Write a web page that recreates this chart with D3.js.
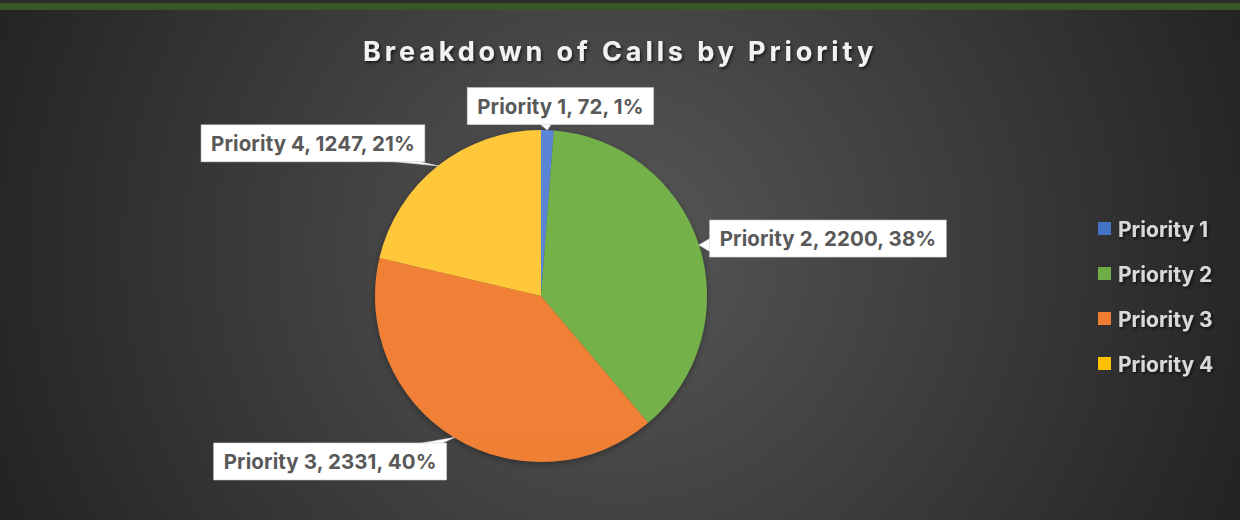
<!DOCTYPE html>
<html>
<head>
<meta charset="utf-8">
<script src="https://cdn.jsdelivr.net/npm/d3@7"></script>
<style>
  html, body { margin: 0; padding: 0; background: #262626; }
  svg { display: block; }
</style>
</head>
<body>
<svg id="chart" width="1240" height="520"></svg>
<script>
// ---- data ----
const categories = ["Priority 1", "Priority 2", "Priority 3", "Priority 4"];
const values = [72, 2200, 2331, 1247];
const percentLabels = ["1%", "38%", "40%", "21%"];
const title = "Breakdown of Calls by Priority";

// ---- styles / layout ----
const colors = ["#4472C4", "#70AD47", "#ED7D31", "#FFC000"];
const colorsLight = ["#5a85d6", "#74b14a", "#ef8034", "#ffc83a"];
const colorsDark = ["#3d67b5", "#6aa542", "#ea7b2f", "#e8b200"];
// label box center offset from the slice's outer mid point
const labelOffsets = [[13, -24], [129, -6.5], [-124, 24], [-125, -22.5]];

const W = 1240, H = 520;
const cx = 541, cy = 296, R = 166;
const FONT = "Inter, 'Open Sans', 'DejaVu Sans', sans-serif";

const svg = d3.select("#chart");
const defs = svg.append("defs");

const bg = defs.append("radialGradient").attr("id", "bg")
  .attr("gradientUnits", "userSpaceOnUse")
  .attr("cx", 620).attr("cy", 250).attr("r", 660);
bg.append("stop").attr("offset", 0).attr("stop-color", "#575757");
bg.append("stop").attr("offset", 1).attr("stop-color", "#242424");

colors.forEach((c, i) => {
  const g = defs.append("linearGradient").attr("id", "sl" + i)
    .attr("gradientUnits", "userSpaceOnUse")
    .attr("x1", 0).attr("y1", cy - R).attr("x2", 0).attr("y2", cy + R);
  g.append("stop").attr("offset", 0).attr("stop-color", colorsLight[i]);
  g.append("stop").attr("offset", 1).attr("stop-color", colorsDark[i]);
});

const sh = defs.append("filter").attr("id", "tshadow")
  .attr("x", "-10%").attr("y", "-30%").attr("width", "120%").attr("height", "160%");
sh.append("feDropShadow").attr("dx", 1.5).attr("dy", 2).attr("stdDeviation", 1.6)
  .attr("flood-color", "#000").attr("flood-opacity", 0.6);

const psh = defs.append("filter").attr("id", "pshadow")
  .attr("x", "-20%").attr("y", "-20%").attr("width", "140%").attr("height", "140%");
psh.append("feDropShadow").attr("dx", 0).attr("dy", 2).attr("stdDeviation", 3)
  .attr("flood-color", "#000").attr("flood-opacity", 0.35);

// background
svg.append("rect").attr("width", W).attr("height", H).attr("fill", "url(#bg)");
svg.append("rect").attr("x", 0).attr("y", 0).attr("width", W).attr("height", 3).attr("fill", "#2b2b2b");
svg.append("rect").attr("x", 0).attr("y", 3).attr("width", W).attr("height", 7).attr("fill", "#375623");

// title
svg.append("text")
  .attr("x", 620).attr("y", 61)
  .attr("text-anchor", "middle")
  .attr("font-family", FONT).attr("font-weight", 700)
  .attr("font-size", 27).attr("letter-spacing", 3.9)
  .attr("fill", "#f2f2f2")
  .attr("filter", "url(#tshadow)")
  .text(title);

// pie
const pie = d3.pie().sort(null).value(d => d);
const arcs = pie(values);
const arc = d3.arc().innerRadius(0).outerRadius(R);

const pieG = svg.append("g").attr("transform", `translate(${cx},${cy})`);
pieG.append("g").attr("filter", "url(#pshadow)")
  .selectAll("path").data(arcs).join("path")
  .attr("d", arc)
  .attr("fill", (d, i) => `url(#sl${i})`);

// labels with callouts
const labelG = svg.append("g");
arcs.forEach((d, i) => {
  const mid = (d.startAngle + d.endAngle) / 2;
  const ax = cx + R * Math.sin(mid);
  const ay = cy - R * Math.cos(mid);
  const bx = ax + labelOffsets[i][0];
  const by = ay + labelOffsets[i][1];
  const txt = `${categories[i]}, ${values[i]}, ${percentLabels[i]}`;

  const g = labelG.append("g");
  const t = g.append("text")
    .attr("font-family", FONT).attr("font-weight", 700).attr("font-size", 20.5)
    .attr("letter-spacing", 0.1)
    .attr("fill", "#595959")
    .attr("text-anchor", "middle")
    .attr("x", bx).attr("y", by + 7.5)
    .text(txt);
  const tw = t.node().getComputedTextLength();
  const bw = tw + 20, bh = 37;
  const x0 = bx - bw / 2, y0 = by - bh / 2, x1 = x0 + bw, y1 = y0 + bh;

  // callout wedge: base on box edge closest to the anchor
  let p1, p2;
  if (ax < x0) {
    const yb = Math.max(y0 + 4, Math.min(y1 - 4, ay));
    p1 = [x0 + 1, yb - 7]; p2 = [x0 + 1, yb + 7];
  } else if (ax > x1) {
    if (ay > y1) { p1 = [x1 - 40, y1 - 1]; p2 = [x1 - 10, y1 - 1]; }
    else if (ay < y0) { p1 = [x1 - 30, y0 + 1]; p2 = [x1 - 6, y0 + 1]; }
    else { p1 = [x1 - 1, ay - 7]; p2 = [x1 - 1, ay + 7]; }
  } else if (ay > y1) {
    p1 = [ax - 8, y1 - 1]; p2 = [ax + 4, y1 - 1];
  } else {
    p1 = [ax - 6, y0 + 1]; p2 = [ax + 6, y0 + 1];
  }
  g.insert("path", "text")
    .attr("d", d3.line()([p1, [ax, ay], p2]) + "Z")
    .attr("fill", "#ffffff").attr("stroke", "#e6e6e6").attr("stroke-width", 0.6);
  g.insert("rect", "text")
    .attr("x", x0).attr("y", y0).attr("width", bw).attr("height", bh)
    .attr("fill", "#ffffff").attr("stroke", "#d0d0d0").attr("stroke-width", 0.6);
});

// legend
const lg = svg.append("g").attr("transform", "translate(1098,222)");
const items = lg.selectAll("g").data(categories).join("g")
  .attr("transform", (d, i) => `translate(0,${i * 45})`);
items.append("rect").attr("width", 13).attr("height", 13)
  .attr("fill", (d, i) => colors[i]);
items.append("text")
  .attr("x", 20).attr("y", 14.5)
  .attr("font-family", FONT).attr("font-weight", 700).attr("font-size", 21)
  .attr("fill", "#d9d9d9")
  .attr("filter", "url(#tshadow)")
  .text(d => d);
</script>
</body>
</html>
